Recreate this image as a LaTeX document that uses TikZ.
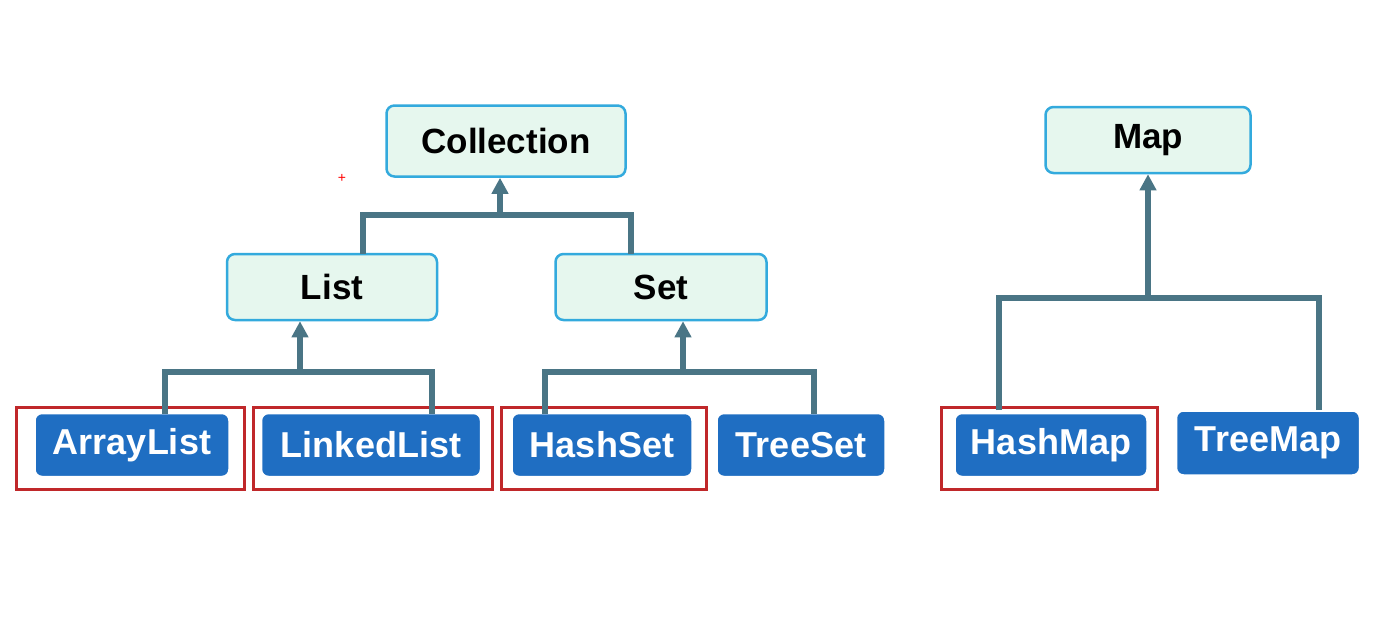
\documentclass[tikz,border=0pt]{standalone}
\usepackage{fontspec}
\setmainfont{Liberation Sans}
\usetikzlibrary{arrows.meta}
\definecolor{lineC}{HTML}{4A7585}
\definecolor{lightF}{HTML}{E6F7EE}
\definecolor{lightB}{HTML}{33AADD}
\definecolor{blueF}{HTML}{1F6EC2}
\definecolor{blueB}{HTML}{1A5EA8}
\definecolor{redB}{HTML}{C0282A}
\begin{document}
\begin{tikzpicture}[x=1pt,y=-1pt,
  light/.style={draw=lightB,line width=2.5pt,fill=lightF,rounded corners=8pt,font=\fontsize{35}{38}\selectfont\bfseries,inner sep=0pt},
  blue/.style={draw=white,line width=1.5pt,fill=blueF,rounded corners=7pt,text=white,font=\fontsize{36}{40}\selectfont\bfseries,inner sep=0pt},
  red/.style={draw=redB,line width=3pt},
  conn/.style={draw=lineC,line width=5.5pt},
  arr/.style={conn,-{Triangle[length=16pt,width=16pt]}}]
\useasboundingbox (0,0) rectangle (1397,627);
\fill[white] (0,0) rectangle (1397,627);
% light nodes
\node[light,minimum width=239pt,minimum height=71pt] (coll) at (506,141) {Collection};
\node[light,minimum width=210pt,minimum height=66pt] (list) at (332,287) {List};
\node[light,minimum width=211pt,minimum height=66pt] (set) at (661,287) {Set};
\node[light,minimum width=205pt,minimum height=66pt] (map) at (1148,140) {Map};
% blue nodes
\node[blue,minimum width=194pt,minimum height=63pt] (al) at (132,445) {ArrayList};
\node[blue,minimum width=219pt,minimum height=63pt] (ll) at (371,445) {LinkedList};
\node[blue,minimum width=180pt,minimum height=63pt] (hs) at (602,445) {HashSet};
\node[blue,minimum width=168pt,minimum height=63pt] (ts) at (801,445) {TreeSet};
\node[blue,minimum width=192pt,minimum height=63pt] (hm) at (1051,445) {HashMap};
\node[blue,minimum width=183pt,minimum height=64pt] (tm) at (1268,443) {TreeMap};
% red frames
\draw[red] (16,407) rectangle (244,489);
\draw[red] (253,407) rectangle (492,489);
\draw[red] (501,407) rectangle (706,489);
\draw[red] (941,407) rectangle (1157,489);
\node[text=red,font=\fontsize{14}{14}\selectfont] (plus) at (342,178) {+};
% junction coordinates
\coordinate (jl) at (300,372);
\coordinate (js) at (683,372);
\coordinate (jc) at (500,215);
\coordinate (jm) at (1148,298);
% List tree
\draw[conn] (165,414) |- (432,372) -- (432,414);
\draw[arr] (jl) -- (list.south -| jl);
% Set tree
\draw[conn] (545,414) |- (814,372) -- (814,414);
\draw[arr] (js) -- (set.south -| js);
% Collection tree
\draw[conn] (363,254) |- (631,215) -- (631,254);
\draw[arr] (jc) -- (coll.south -| jc);
% Map tree
\draw[conn] (999,410) |- (1319,298) -- (1319,410);
\draw[arr] (jm) -- (map.south);
\end{tikzpicture}
\end{document}
